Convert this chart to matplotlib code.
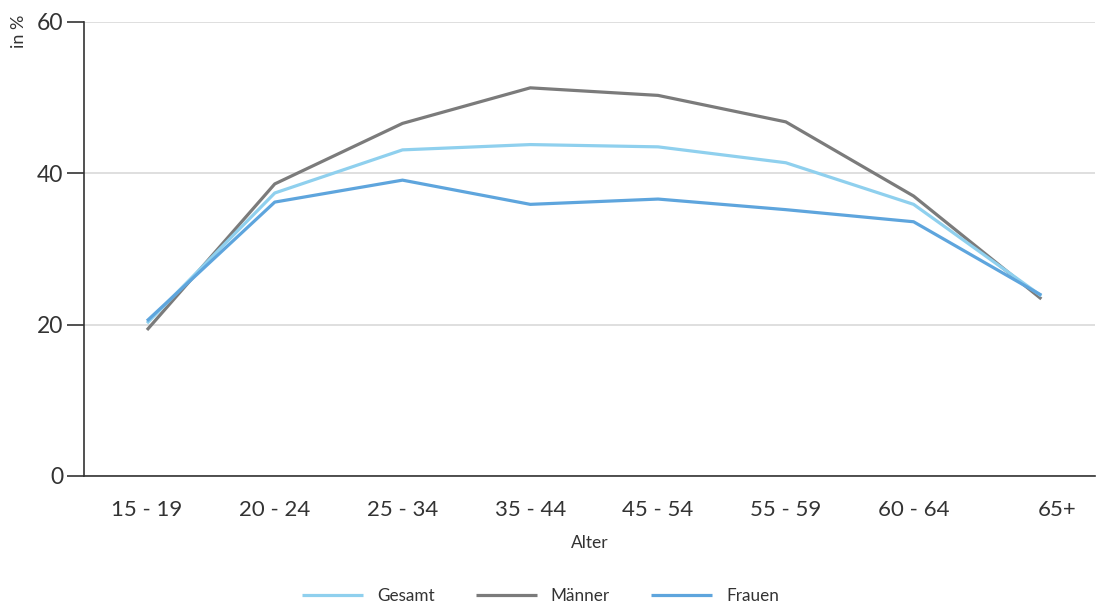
import matplotlib
matplotlib.use("Agg")
import matplotlib.pyplot as plt
import matplotlib.transforms as mtransforms

# Anteil nach Altersgruppe, in %
alter = ["15 - 19", "20 - 24", "25 - 34", "35 - 44", "45 - 54", "55 - 59", "60 - 64", "65+"]
gesamt = [20.2, 37.4, 43.1, 43.8, 43.5, 41.4, 35.9, 23.8]
maenner = [19.3, 38.6, 46.6, 51.3, 50.3, 46.8, 37.0, 23.4]
frauen = [20.5, 36.2, 39.1, 35.9, 36.6, 35.2, 33.6, 23.9]
y_ticks = [0, 20, 40, 60]

plt.rcParams["font.family"] = ["Lato", "DejaVu Sans"]
text_col = "#333333"

fig = plt.figure(figsize=(10.96, 6.05), dpi=100)
ax = fig.add_axes([84 / 1096, 129 / 605, (1095 - 84) / 1096, 454 / 605])

x = list(range(len(alter)))
ax.plot(x, gesamt, color="#8fd0ee", lw=2.3, label="Gesamt", solid_capstyle="butt", zorder=3)
ax.plot(x, maenner, color="#7b7b7b", lw=2.3, label="Männer", solid_capstyle="butt", zorder=2)
ax.plot(x, frauen, color="#5ea5dd", lw=2.3, label="Frauen", solid_capstyle="butt", zorder=4)

ax.set_xlim(-0.493, 7.42)
ax.set_ylim(0, 60)
ax.set_yticks(y_ticks)
ax.set_yticklabels([str(v) for v in y_ticks], fontsize=16.5, color=text_col)
ax.set_xticks(x)
ax.set_xticklabels(alter, fontsize=16, color=text_col)
ax.tick_params(axis="x", length=0, pad=17)
ax.tick_params(axis="y", length=12, width=1.2, color=text_col, pad=3)

# "65+" sits slightly right of its point
lab = ax.get_xticklabels()[-1]
lab.set_transform(lab.get_transform() + mtransforms.ScaledTranslation(16 / 100, 0, fig.dpi_scale_trans))

ax.grid(axis="y", color="#d9d9d9", lw=1.2, zorder=0)
ax.set_axisbelow(True)
for s in ("top", "right"):
    ax.spines[s].set_visible(False)
for s in ("left", "bottom"):
    ax.spines[s].set_color(text_col)
    ax.spines[s].set_linewidth(1.2)

ax.set_xlabel("Alter", fontsize=12.5, color=text_col, labelpad=11)
fig.text(19 / 1096, 1 - 31 / 605, "in %", rotation=90, fontsize=13, color=text_col,
         ha="center", va="center")

fig.legend(loc="center", bbox_to_anchor=(0.493, 1 - 596 / 605), ncol=3, frameon=False,
           fontsize=12.3, handlelength=3.6, handletextpad=0.8, columnspacing=2.4,
           labelcolor=text_col)

fig.savefig("out.png", dpi=100)
